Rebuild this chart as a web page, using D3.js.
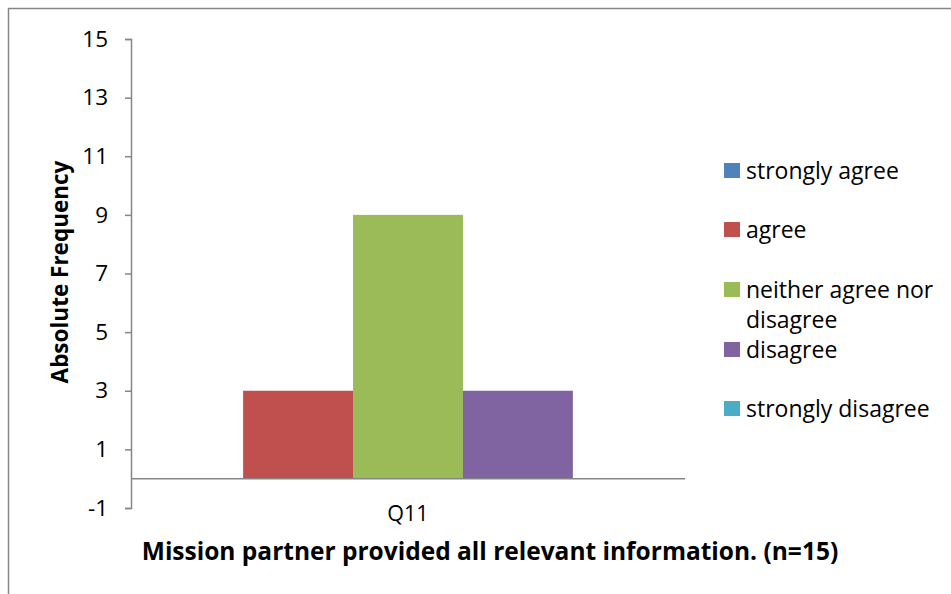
<!DOCTYPE html>
<html><head><meta charset="utf-8">
<script src="https://cdn.jsdelivr.net/npm/d3@7"></script>
<style>body{margin:0;background:#fff}svg{display:block}text{font-family:"Open Sans",sans-serif;fill:#000}</style>
</head><body><svg id="c" width="951" height="594"></svg>
<script>
const categories = ["Q11"];
const seriesNames = ["strongly agree","agree","neither agree nor disagree","disagree","strongly disagree"];
const seriesValues = [0,3,9,3,0];
const seriesColors = ["#4f81bd","#c0504d","#9bbb59","#8064a2","#4bacc6"];
const yTicks = [-1,1,3,5,7,9,11,13,15];
const yTitle = "Absolute Frequency";
const xTitle = "Mission partner provided all relevant information. (n=15)";

const svg = d3.select("#c");
svg.append("rect").attr("x",8.5).attr("y",8.5).attr("width",1000).attr("height",1000)
  .attr("fill","none").attr("stroke","#868686").attr("stroke-width",1.5);

const L=131, R=685, T=39, B=508;
const y = d3.scaleLinear().domain([-1,15]).range([B,T]);
const x0 = d3.scaleBand().domain(categories).range([L,R]).paddingInner(0).paddingOuter(0.004);
const x1 = d3.scaleBand().domain(seriesNames).range([0,x0.bandwidth()]).padding(0);

const yAxis = svg.append("g").attr("transform",`translate(${L},0)`)
  .call(d3.axisLeft(y).tickValues(yTicks).tickFormat(d=>String(d)).tickSize(6).tickSizeOuter(6).tickPadding(17));
yAxis.select(".domain").attr("stroke","#868686").attr("stroke-width",1.5);
yAxis.selectAll(".tick line").attr("stroke","#868686").attr("stroke-width",1.5);
yAxis.selectAll(".tick text").attr("font-size",22.5).attr("font-family","'Open Sans', sans-serif").attr("fill","#000");

const g = svg.append("g");
categories.forEach((c)=>{
  seriesNames.forEach((s,i)=>{
    const v = seriesValues[i];
    g.append("rect").attr("x",x0(c)+x1(s)).attr("width",x1.bandwidth())
      .attr("y",y(Math.max(0,v))).attr("height",Math.abs(y(v)-y(0)))
      .attr("fill",seriesColors[i]);
  });
});
svg.append("line").attr("x1",L).attr("x2",R).attr("y1",y(0)).attr("y2",y(0))
  .attr("stroke","#868686").attr("stroke-width",1.5);

categories.forEach(c=>{
  svg.append("text").attr("x",x0(c)+x0.bandwidth()/2).attr("y",521).attr("text-anchor","middle")
    .attr("font-size",21.5).text(c);
});

svg.append("text").attr("transform",`translate(68,272) rotate(-90)`).attr("text-anchor","middle")
  .attr("font-size",22.5).attr("font-weight","bold").text(yTitle);
svg.append("text").attr("x",490).attr("y",560).attr("text-anchor","middle")
  .attr("font-size",24.5).attr("font-weight","bold").text(xTitle);

const legY = [171,230,290,350,409];
const leg = svg.append("g");
seriesNames.forEach((s,i)=>{
  leg.append("rect").attr("x",724).attr("y",legY[i]-8).attr("width",16).attr("height",15).attr("fill",seriesColors[i]);
  if(s==="neither agree nor disagree"){
    leg.append("text").attr("x",746).attr("y",legY[i]+8).attr("font-size",23).text("neither agree nor");
    leg.append("text").attr("x",746).attr("y",legY[i]+38).attr("font-size",23).text("disagree");
  } else {
    leg.append("text").attr("x",746).attr("y",legY[i]+8).attr("font-size",23).text(s);
  }
});
</script></body></html>
